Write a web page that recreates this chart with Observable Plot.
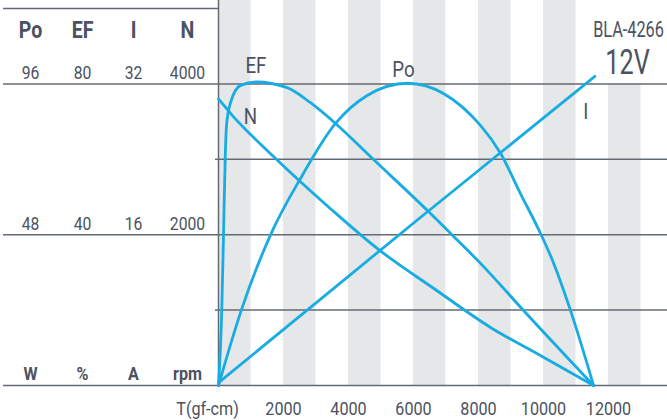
<!DOCTYPE html>
<html>
<head>
<meta charset="utf-8">
<script src="https://cdn.jsdelivr.net/npm/d3@7"></script>
<script src="https://cdn.jsdelivr.net/npm/@observablehq/plot@0.6"></script>
<style>
  html, body { margin: 0; padding: 0; background: #fff; }
  #chart svg { display: block; }
</style>
</head>
<body>
<div id="chart"></div>
<script>
// ---------- data ----------
const seriesNames = ["Po", "EF", "I", "N"];
const seriesMax = [96, 80, 32, 4000];
const seriesUnits = ["W", "%", "A", "rpm"];
const xTicks = [2000, 4000, 6000, 8000, 10000, 12000];
const xTitle = "T(gf-cm)";
const modelName = "BLA-4266";
const voltage = "12V";
const bandStarts = [0, 2000, 4000, 6000, 8000, 10000, 12000];
const bandWidth = 1000;

const poTorque = [0, 700, 1630, 2523, 3600, 4575, 5815, 8060, 8677, 9290, 9908, 10277, 10830, 11540];
const poValues = [0, 23.9, 48.6, 65.9, 83.4, 92.3, 96.2, 82.8, 73.9, 61.1, 48.4, 39.8, 23.9, 0];

const efTorque = [0, 100, 154, 206, 246, 369, 677, 1150, 2113, 2830, 3600, 4738, 6430, 7354, 8062, 9385, 11540];
const efValues = [0, 19.9, 40, 60.2, 69, 75, 79.6, 80.5, 79.0, 75.0, 69.5, 60.2, 46.4, 38.5, 32.4, 19.9, 0];

const iTorque = [0, 6060, 11580];
const iValues = [0.3, 17.4, 32.8];

const nTorque = [0, 430, 1660, 3446, 4920, 6615, 8370, 10000, 11540];
const nValues = [3800, 3580, 3050, 2345, 1805, 1290, 770, 375, 0];

// ---------- layout / style ----------
const W = 667, H = 420;
const mLeft = 218, mBottom = 35;
const xMax = 13815;
const yTop = 1.2765;
const colX = [30, 82, 133, 187];
const gridColor = "#646a74";
const textColor = "#4b5260";
const bandColor = "#e6e7e9";
const curveColor = "#17ace2";
const font = "Roboto, 'Liberation Sans', sans-serif";
const squeeze = 0.85;                                    // horizontal condensing of lettering
const squeezeFor = {[modelName]: 0.74, [voltage]: 0.72}; // tighter for the model block

// ---------- build table ----------
const series = [
  {name: "Po", t: poTorque, v: poValues, max: seriesMax[0]},
  {name: "EF", t: efTorque, v: efValues, max: seriesMax[1]},
  {name: "I", t: iTorque, v: iValues, max: seriesMax[2]},
  {name: "N", t: nTorque, v: nValues, max: seriesMax[3]}
];
const rows = series.flatMap(s => s.t.map((t, k) => ({series: s.name, t, y: s.v[k] / s.max})));
const pt = (name, k) => rows.filter(r => r.series === name)[k];

const marks = [
  // grey vertical bands
  Plot.rect(bandStarts, {x1: d => d, x2: d => d + bandWidth, fill: bandColor}),
  // white box behind model name
  Plot.rect([modelName], {x1: () => 11100, x2: () => xMax, y1: () => 1, y2: () => yTop, fill: "white"}),
  // horizontal grid in frame
  Plot.ruleY([0, 0.25, 0.5, 0.75, 1], {stroke: gridColor, strokeWidth: 1.5}),
  // grid extensions into left panel
  Plot.axisY({ticks: [0, 0.5, 1, 1.25], tickSize: 215, tickFormat: () => "", label: null, stroke: gridColor, strokeWidth: 1.5}),
  Plot.axisY({ticks: [0.25, 0.75], tickSize: 3, tickFormat: () => "", label: null, stroke: gridColor, strokeWidth: 1.5}),
  // vertical axis line
  Plot.ruleX([0], {stroke: gridColor, strokeWidth: 1.5}),
  // x axis labels
  Plot.axisX({ticks: xTicks, tickSize: 0, tickPadding: 15.5, tickFormat: d3.format("d"), label: null, fontSize: 19, fill: textColor}),
  Plot.text([xTitle], {x: () => 0, y: () => 0, text: d => d, dx: -11, dy: 29, lineAnchor: "bottom", textAnchor: "middle", fontSize: 19, fill: textColor}),
];

seriesNames.forEach((name, i) => {
  const dx = colX[i] - mLeft;
  marks.push(
    Plot.text([name], {frameAnchor: "top-left", text: d => d, dx, dy: 37, lineAnchor: "bottom", textAnchor: "middle",
      fontSize: 23, fontWeight: "bold", fill: textColor}),
    Plot.text([0.5, 1], {y: d => d, frameAnchor: "left", text: d => String(d * seriesMax[i]), dx, dy: -5,
      lineAnchor: "bottom", textAnchor: "middle", fontSize: 18.5, fill: textColor}),
    Plot.text([seriesUnits[i]], {y: () => 0, frameAnchor: "left", text: d => d, dx, dy: -6,
      lineAnchor: "bottom", textAnchor: "middle", fontSize: 19, fontWeight: "bold", fill: textColor})
  );
});

marks.push(
  Plot.line(rows, {x: "t", y: "y", z: "series", stroke: curveColor, strokeWidth: 2.8, curve: "monotone-x"}),
  // curve labels
  Plot.text([pt("EF", 7)], {x: "t", y: "y", text: () => "EF", dy: -9, lineAnchor: "bottom", fontSize: 22, fill: textColor}),
  Plot.text([pt("Po", 6)], {x: "t", y: "y", text: () => "Po", dx: -4, dy: -6, lineAnchor: "bottom", fontSize: 22, fill: textColor}),
  Plot.text([pt("N", 1)], {x: "t", y: "y", text: () => "N", dx: 18, dy: 1, lineAnchor: "middle", fontSize: 22, fill: textColor}),
  Plot.text([pt("I", 2)], {x: "t", y: "y", text: () => "I", dx: -9, dy: 36, lineAnchor: "middle", fontSize: 22, fill: textColor}),
  // model / voltage
  Plot.text([modelName], {frameAnchor: "top-right", text: d => d, dx: -39, dy: 36, lineAnchor: "bottom", textAnchor: "middle", fontSize: 22, fill: textColor}),
  Plot.text([voltage], {frameAnchor: "top-right", text: d => d, dx: -40, dy: 73, lineAnchor: "bottom", textAnchor: "middle", fontSize: 35, fill: textColor})
);

const chart = Plot.plot({
  width: W,
  height: H,
  marginLeft: mLeft,
  marginRight: 0,
  marginTop: 0,
  marginBottom: mBottom,
  style: {fontFamily: font, background: "white", overflow: "visible"},
  x: {domain: [0, xMax], label: null},
  y: {domain: [0, yTop], label: null},
  marks
});
// condense lettering horizontally around each text's anchor
chart.querySelectorAll("text").forEach(t => {
  const tr = t.getAttribute("transform");
  const s = squeezeFor[t.textContent] ?? squeeze;
  if (tr) t.setAttribute("transform", tr + ` scale(${s},1)`);
});
document.getElementById("chart").appendChild(chart);
</script>
</body>
</html>
